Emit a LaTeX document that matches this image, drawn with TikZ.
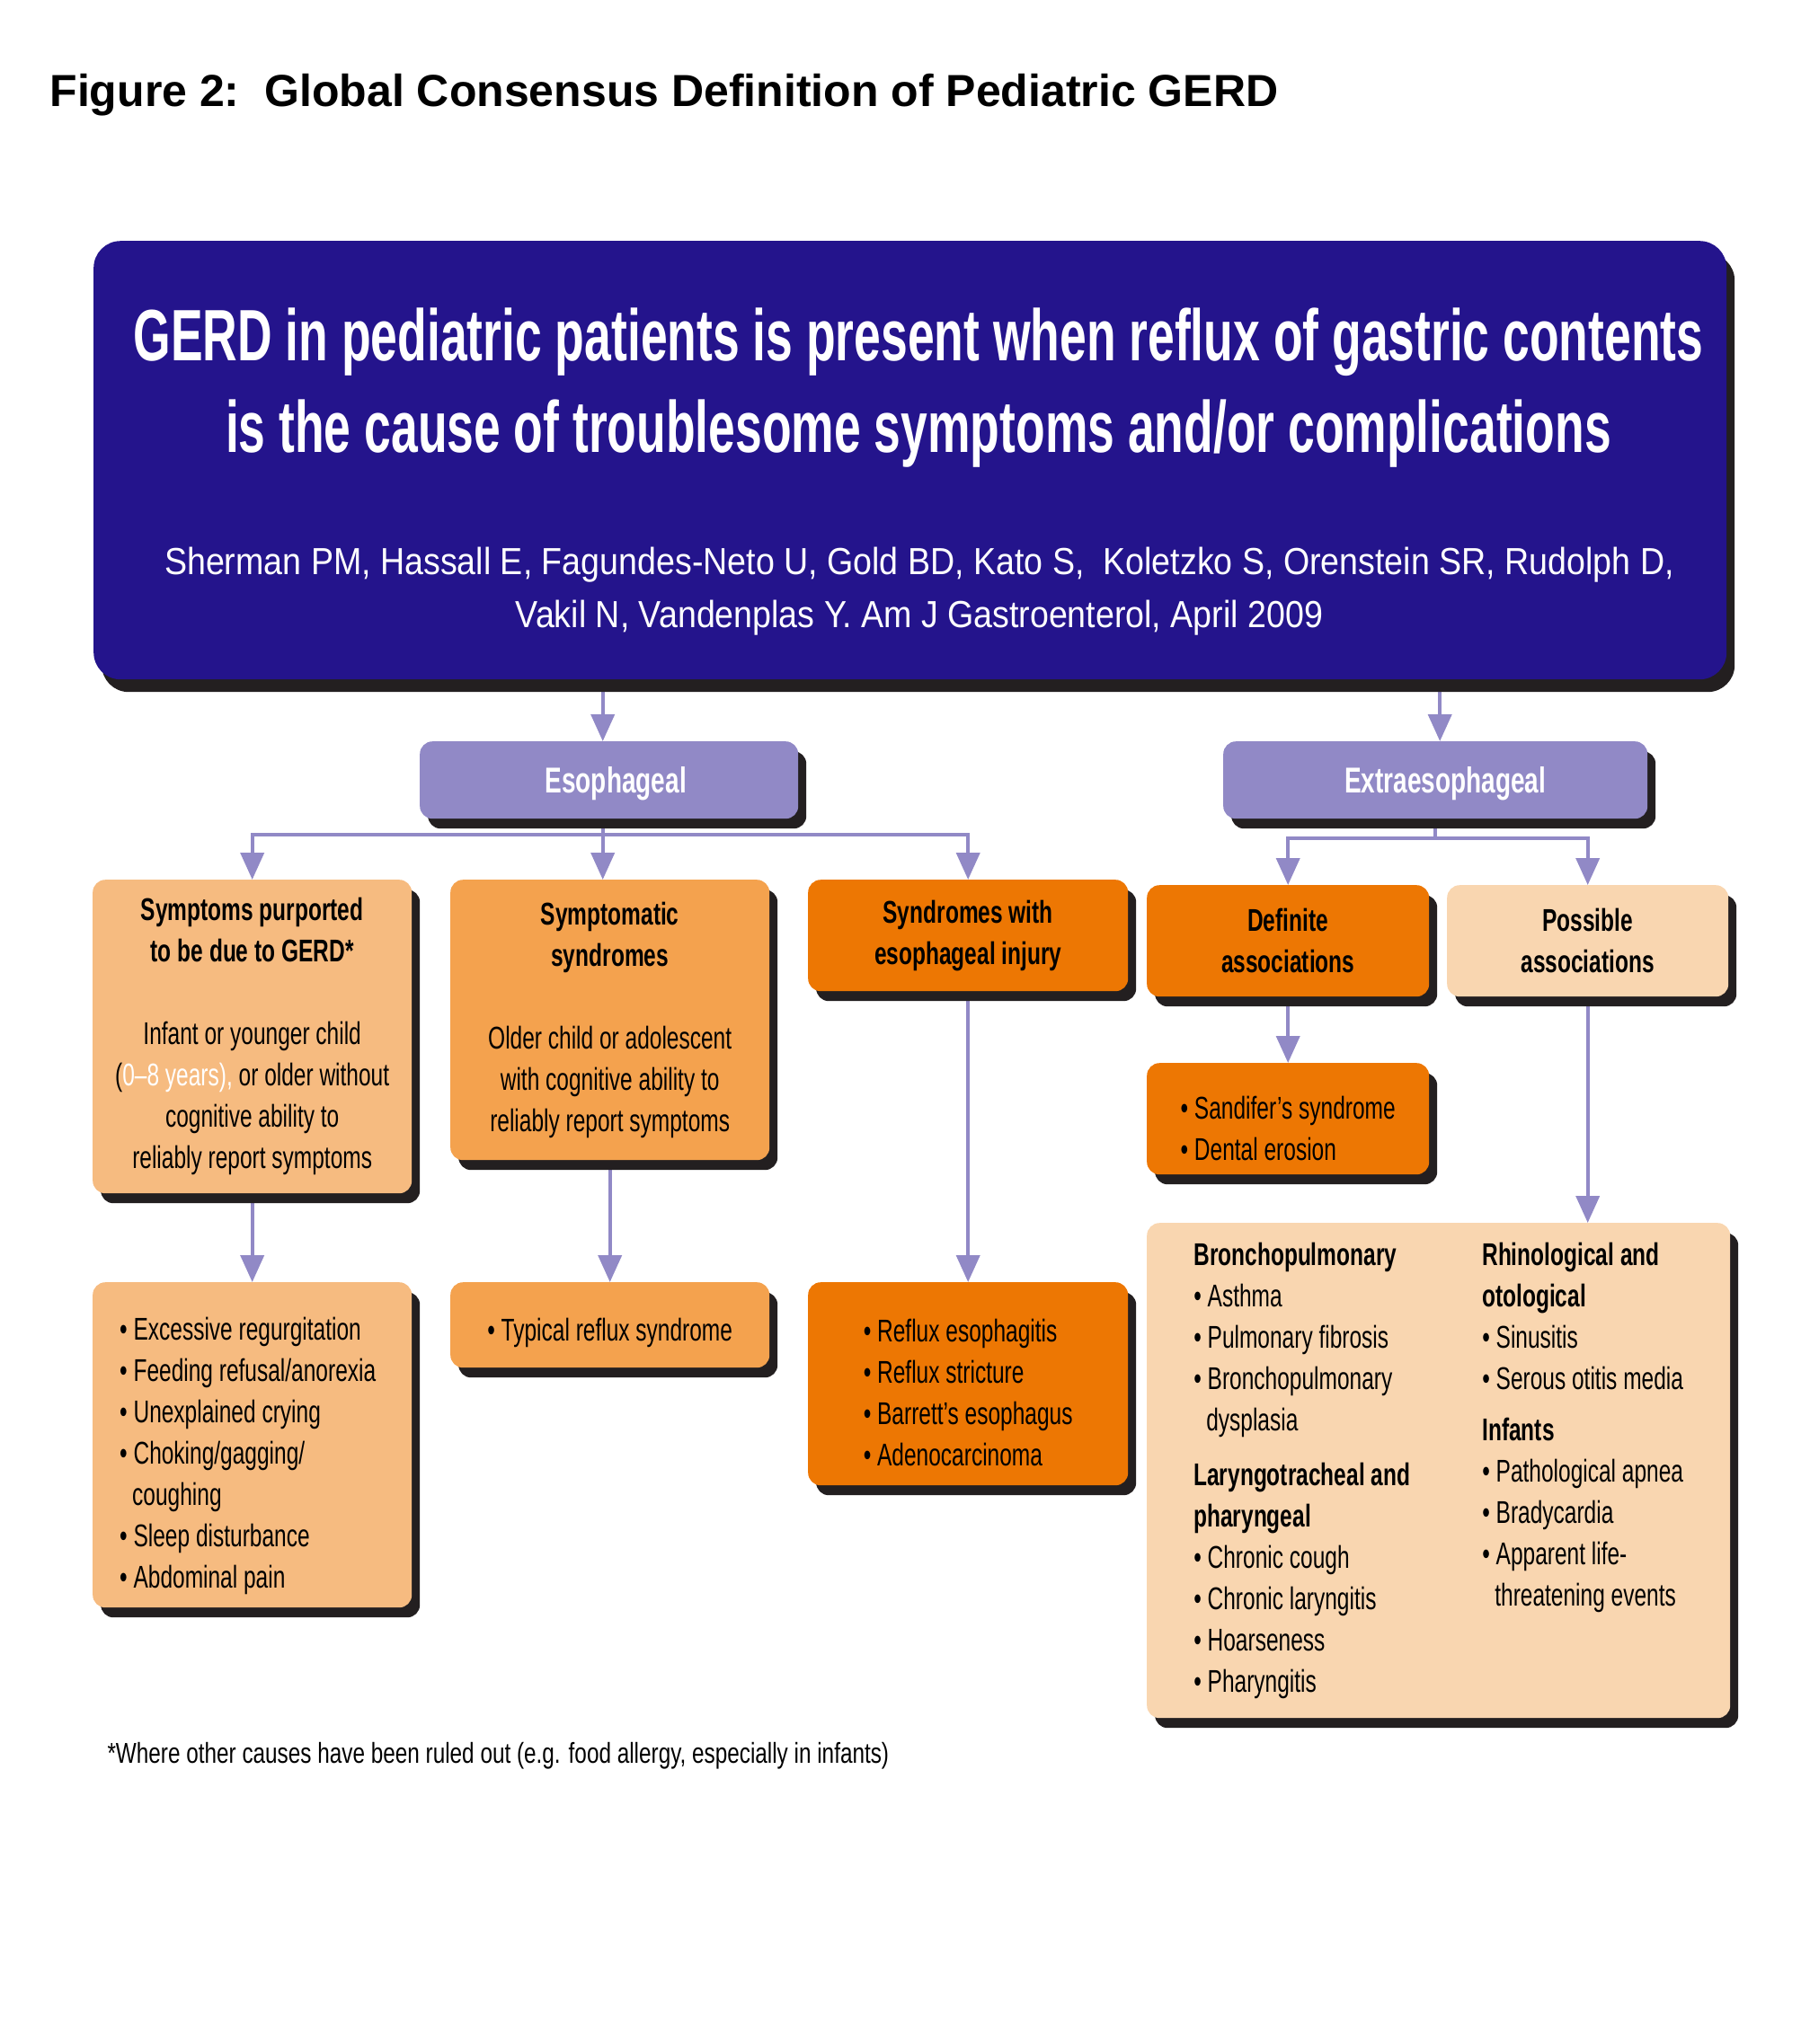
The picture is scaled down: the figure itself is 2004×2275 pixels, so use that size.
\documentclass[tikz,border=0pt]{standalone}
\usepackage{fontspec}
\setmainfont{Liberation Sans}
\newfontfamily\condFont[FakeStretch=0.70]{Liberation Sans}
\newfontfamily\noteFont[FakeStretch=0.76]{Liberation Sans}
\newfontfamily\headFont[FakeStretch=0.66]{Liberation Sans}
\newfontfamily\citeFont[FakeStretch=0.895]{Liberation Sans}
\usetikzlibrary{arrows.meta,shadows,backgrounds}
\definecolor{gerdBlue}{HTML}{24148C}
\definecolor{arrowLilac}{HTML}{9189C6}
\definecolor{paleOrange}{HTML}{F6BB80}
\definecolor{midOrange}{HTML}{F4A24E}
\definecolor{deepOrange}{HTML}{ED7703}
\definecolor{peach}{HTML}{F9D6B0}
\definecolor{shadowGray}{HTML}{231F20}
\newcommand{\padTop}[1]{\rule{0pt}{#1pt}}
\tikzset{
    boxBase/.style={anchor=north west, rounded corners=14pt, inner sep=0pt,
        drop shadow={shadow xshift=9pt, shadow yshift=-#1, opacity=1, fill=shadowGray}},
    boxBase/.default=11pt,
    bodyText/.style={font=\condFont\fontsize{35}{46}\selectfont},
    labelText/.style={font=\condFont\bfseries\fontsize{40}{48}\selectfont, text=white, text depth=0pt},
    arrowLine/.style={draw=arrowLilac, line width=4pt, -{Triangle[width=26pt,length=30pt]}},
    branchLine/.style={draw=arrowLilac, line width=4pt}
}
\begin{document}
\begin{tikzpicture}[x=1pt,y=-1pt]
    \useasboundingbox (0,0) rectangle (2004,2275);
    \node[anchor=base west, font=\bfseries\fontsize{50}{60}\selectfont] (figTitle) at (52,118) {Figure 2:\ \ Global Consensus Definition of Pediatric GERD};

    % definition
    \node[boxBase=14pt, rounded corners=30pt, fill=gerdBlue, minimum width=1817pt, minimum height=488pt] (gerdBox) at (104,268) {};
    \node[anchor=north, inner sep=0pt, align=center, text=white, font=\headFont\bfseries\fontsize{81}{102}\selectfont] (gerdDef) at (1022,343)
        {GERD in pediatric patients is present when reflux of gastric contents\\is the cause of troublesome symptoms and/or complications};
    \node[anchor=north, inner sep=0pt, align=center, text=white, font=\citeFont\fontsize{42}{59}\selectfont] (gerdCite) at (1023,609)
        {Sherman PM, Hassall E, Fagundes-Neto U, Gold BD, Kato S,\ \ Koletzko S, Orenstein SR, Rudolph D,\\Vakil N, Vandenplas Y. Am J Gastroenterol, April 2009};

    % two main groups
    \node[boxBase, fill=arrowLilac, minimum width=421pt, minimum height=86pt, labelText] (esoBox) at (467,825) {\hspace*{15pt}Esophageal};
    \node[boxBase, fill=arrowLilac, minimum width=472pt, minimum height=86pt, labelText] (extraBox) at (1361,825) {\hspace*{22pt}Extraesophageal};

    % esophageal branch
    \node[boxBase, fill=paleOrange, minimum width=355pt, minimum height=349pt, align=center, bodyText] (purpBox) at (103,979)
        {\textbf{Symptoms purported}\\\textbf{to be due to GERD*}\\[46pt]Infant or younger child\\(\textcolor{white}{0–8 years),} or older without\\cognitive ability to\\reliably report symptoms};
    \node[boxBase, fill=midOrange, minimum width=355pt, minimum height=312pt, align=center, bodyText] (syndBox) at (501,979)
        {\textbf{Symptomatic}\\\textbf{syndromes}\\[46pt]Older child or adolescent\\with cognitive ability to\\reliably report symptoms};
    \node[boxBase, fill=deepOrange, minimum width=356pt, minimum height=124pt, align=center, bodyText] (injuryBox) at (899,979)
        {\textbf{Syndromes with}\\\textbf{esophageal injury}};
    \node[boxBase, fill=paleOrange, minimum width=355pt, minimum height=362pt, inner xsep=30pt, text width=295pt, align=flush left, bodyText] (regurgBox) at (103,1427)
        {\padTop{49}• Excessive regurgitation\\• Feeding refusal/anorexia\\• Unexplained crying\\• Choking/gagging/\\\hspace*{14pt}coughing\\• Sleep disturbance\\• Abdominal pain};
    \node[boxBase, fill=midOrange, minimum width=355pt, minimum height=95pt, align=left, bodyText] (typicalBox) at (501,1427)
        {\padTop{42}• Typical reflux syndrome};
    \node[boxBase, fill=deepOrange, minimum width=356pt, minimum height=226pt, align=left, bodyText] (erosiveBox) at (899,1427)
        {\padTop{44}• Reflux esophagitis\\• Reflux stricture\\• Barrett’s esophagus\\• Adenocarcinoma};

    % extraesophageal branch
    \node[boxBase, fill=deepOrange, minimum width=314pt, minimum height=124pt, align=center, bodyText] (defBox) at (1276,985)
        {\textbf{Definite}\\\textbf{associations}};
    \node[boxBase, fill=peach, minimum width=313pt, minimum height=124pt, align=center, bodyText] (possBox) at (1610,985)
        {\textbf{Possible}\\\textbf{associations}};
    \node[boxBase, fill=deepOrange, minimum width=314pt, minimum height=124pt, align=left, bodyText] (sandiferBox) at (1276,1183)
        {\padTop{47}• Sandifer’s syndrome\\• Dental erosion};
    \node[boxBase, fill=peach, minimum width=649pt, minimum height=551pt, bodyText] (extListBox) at (1276,1361)
        {\makebox[321pt][l]{\begin{tabular}[t]{@{}l@{}}
            \textbf{Bronchopulmonary}\\
            • Asthma\\
            • Pulmonary fibrosis\\
            • Bronchopulmonary\\
            \hspace*{14pt}dysplasia\\[15pt]
            \textbf{Laryngotracheal and}\\
            \textbf{pharyngeal}\\
            • Chronic cough\\
            • Chronic laryngitis\\
            • Hoarseness\\
            • Pharyngitis
        \end{tabular}}\begin{tabular}[t]{@{}l@{}}
            \textbf{Rhinological and}\\
            \textbf{otological}\\
            • Sinusitis\\
            • Serous otitis media\\[11pt]
            \textbf{Infants}\\
            • Pathological apnea\\
            • Bradycardia\\
            • Apparent life-\\
            \hspace*{14pt}threatening events
        \end{tabular}};

    \node[anchor=base west, font=\noteFont\fontsize{32}{38}\selectfont] (footNote) at (116,1962)
        {*Where other causes have been ruled out (e.g. food allergy, especially in infants)};

    % connectors
    \begin{scope}[on background layer]
        \draw[arrowLine] ([xshift=-7pt]gerdBox.south -| esoBox.north) -- ([xshift=-7pt]esoBox.north);
        \draw[arrowLine] ([xshift=5pt]gerdBox.south -| extraBox.north) -- ([xshift=5pt]extraBox.north);
        \coordinate (esoSplit) at ([xshift=-7pt,yshift=-18pt]esoBox.south);
        \draw[arrowLine] (esoSplit |- esoBox.south) -- (esoSplit |- syndBox.north);
        \draw[arrowLine] (esoSplit) -| (purpBox.north);
        \draw[arrowLine] (esoSplit) -| (injuryBox.north);
        \coordinate (extraSplit) at ([yshift=-22pt]extraBox.south);
        \draw[branchLine] (extraBox.south) -- (extraSplit);
        \draw[arrowLine] (extraSplit) -| (defBox.north);
        \draw[arrowLine] (extraSplit) -| (possBox.north);
        \draw[arrowLine] (purpBox.south) -- (regurgBox.north);
        \draw[arrowLine] (syndBox.south) -- (typicalBox.north);
        \draw[arrowLine] (injuryBox.south) -- (erosiveBox.north);
        \draw[arrowLine] (defBox.south) -- (sandiferBox.north);
        \draw[arrowLine] (possBox.south) -- (possBox.south |- extListBox.north);
    \end{scope}
\end{tikzpicture}
\end{document}
